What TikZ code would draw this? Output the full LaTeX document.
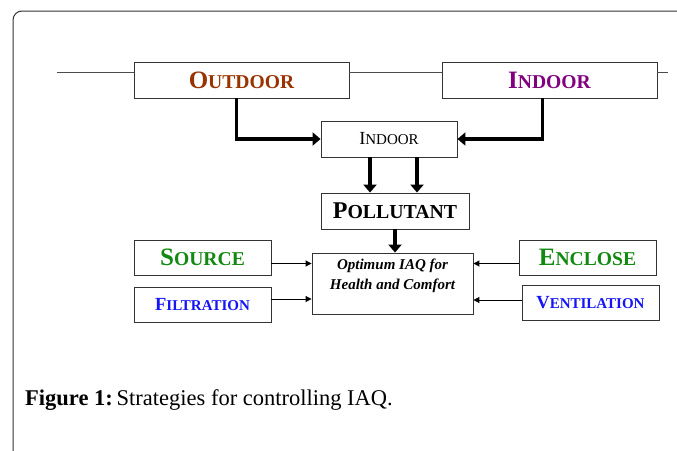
\documentclass[tikz,border=0pt]{standalone}
\usepackage{fontspec}
\setmainfont{Liberation Serif}
\usetikzlibrary{arrows.meta}
\definecolor{outbrown}{HTML}{993300}
\definecolor{inpurple}{HTML}{800080}
\definecolor{srcgreen}{HTML}{128A12}
\definecolor{fltblue}{HTML}{1515F5}
% fake small caps: big first letter, smaller rest
\newcommand{\fsc}[4]{{\fontsize{#1}{#1}\selectfont #3}{\fontsize{#2}{#2}\selectfont #4}}
\begin{document}
\begin{tikzpicture}[x=1pt,y=-1pt,
  box/.style={draw=black!80,line width=0.9pt,inner sep=0pt,fill=white},
  bigarrow/.style={line width=3.6pt,-{Triangle[length=8pt,width=13pt]}},
  smallarrow/.style={line width=1pt,-{Triangle[length=6pt,width=6pt]}}]
\useasboundingbox (0,0) rectangle (677,450);
\draw[black!80,line width=1pt,rounded corners=9pt](13,11) rectangle (700,470);
% top row
\coordinate (l0) at (57,72);
\coordinate (r0) at (668,72);
\node[box,minimum width=215,minimum height=36] (out) at (241.5,80) {\color{outbrown}\bfseries\fsc{25}{19.6}{O}{UTDOOR}};
\node[box,minimum width=215,minimum height=36] (in) at (549.5,80) {\color{inpurple}\bfseries\fsc{25}{19.6}{I}{NDOOR}};
\draw[black!70,line width=0.8pt](l0)--(l0-|out.west) (out.east|-l0)--(l0-|in.west) (in.east|-l0)--(r0);
\node[box,minimum width=136,minimum height=36] (ind) at (389,139) {\fsc{18.5}{15}{I}{NDOOR}};
\node[box,minimum width=148,minimum height=36] (pol) at (395,211) {\bfseries\fsc{24}{19.8}{P}{OLLUTANT}};
\node[box,minimum width=161,minimum height=61] (iaq) at (392.5,283.5) {};
\node[font=\fontsize{15}{20}\selectfont\bfseries\itshape,align=center] (iaqtxt) at (392.5,276) {Optimum IAQ for\\Health and Comfort};
% side boxes
\node[box,minimum width=137,minimum height=35] (src) at (202.5,257.5) {\color{srcgreen}\bfseries\fsc{25}{19.6}{S}{OURCE}};
\node[box,minimum width=137,minimum height=35] (flt) at (202.5,304.5) {\color{fltblue}\bfseries\fsc{18.5}{15}{F}{ILTRATION}};
\node[box,minimum width=137,minimum height=35] (enc) at (587.5,257.5) {\color{srcgreen}\bfseries\fsc{25}{19.6}{E}{NCLOSE}};
\node[box,minimum width=137,minimum height=35] (ven) at (590.5,302.5) {\color{fltblue}\bfseries\fsc{18.5}{15}{V}{ENTILATION}};
% arrows
\draw[bigarrow]([xshift=-5]out.south)|-(ind.west);
\draw[bigarrow]([xshift=-7]in.south)|-(ind.east);
\draw[bigarrow]([xshift=-19]ind.south)--([xshift=-25]pol.north);
\draw[bigarrow]([xshift=28]ind.south)--([xshift=22]pol.north);
\draw[bigarrow](pol.south)--(pol.south|-iaq.north);
\draw[smallarrow]([yshift=-6]src.east)--([yshift=-6]src.east-|iaq.west);
\draw[smallarrow]([yshift=5.5]flt.east)--([yshift=5.5]flt.east-|iaq.west);
\draw[smallarrow]([yshift=-6]enc.west)--([yshift=-6]enc.west-|iaq.east);
\draw[smallarrow]([yshift=2.5]ven.west)--([yshift=2.5]ven.west-|iaq.east);
% caption
\node[anchor=base west,font=\fontsize{22.5}{26}\selectfont,inner sep=0pt] (cap) at (25,405) {\textbf{Figure 1:}\,Strategies for controlling IAQ.};
\end{tikzpicture}
\end{document}
